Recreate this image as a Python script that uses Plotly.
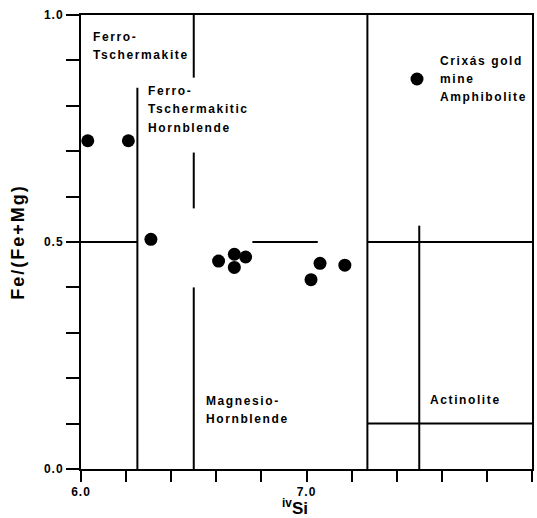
import plotly.graph_objects as go

# Data points (iv Si, Fe/(Fe+Mg))
si_values = [6.03, 6.21, 6.31, 6.61, 6.68, 6.73, 6.68, 7.02, 7.06, 7.17, 7.49]
fe_ratio = [0.723, 0.723, 0.506, 0.458, 0.473, 0.467, 0.444, 0.417, 0.453, 0.449, 0.859]

# Classification boundary segments (x0, x1, y0, y1)
boundary_x0 = [6.25, 6.5, 6.5, 6.5, 7.27, 7.5, 6.0, 6.76, 7.27, 7.27]
boundary_x1 = [6.25, 6.5, 6.5, 6.5, 7.27, 7.5, 6.25, 7.05, 8.0, 8.0]
boundary_y0 = [0.0, 0.862, 0.574, 0.0, 0.0, 0.0, 0.5, 0.5, 0.5, 0.1]
boundary_y1 = [0.84, 1.0, 0.697, 0.40, 1.0, 0.536, 0.5, 0.5, 0.5, 0.1]

# Region labels (one entry per text line)
label_text = ["Ferro-", "Tschermakite",
              "Ferro-", "Tschermakitic", "Hornblende",
              "Crixás gold", "mine", "Amphibolite",
              "Magnesio-", "Hornblende",
              "Actinolite"]
label_x = [6.046, 6.046,
           6.29, 6.29, 6.29,
           7.583, 7.583, 7.583,
           6.545, 6.545,
           7.537]
label_y = [0.952, 0.913,
           0.833, 0.792, 0.752,
           0.899, 0.859, 0.819,
           0.150, 0.110,
           0.151]

x_tickvals = [6.0, 7.0, 8.0]
x_ticktext = ["6.0", "7.0", "8.0"]
x_minor_ticks = [6.2, 6.4, 6.6, 6.8, 7.2, 7.4, 7.6, 7.8]
y_tickvals = [0.0, 0.5, 1.0]
y_ticktext = ["0.0", "0.5", "1.0"]
y_minor_ticks = [0.1, 0.2, 0.3, 0.4, 0.6, 0.7, 0.8, 0.9]

x_title = "<sup>iv</sup>Si"
y_title = "Fe/(Fe+Mg)"

FONT = "Liberation Sans, Arial, sans-serif"

lx, ly = [], []
for a, b, c, d in zip(boundary_x0, boundary_x1, boundary_y0, boundary_y1):
    lx += [a, b, None]
    ly += [c, d, None]

fig = go.Figure()
fig.add_trace(go.Scatter(x=lx, y=ly, mode="lines",
                         line=dict(color="black", width=2),
                         hoverinfo="skip", showlegend=False))
fig.add_trace(go.Scatter(x=si_values, y=fe_ratio, mode="markers",
                         marker=dict(color="black", size=13),
                         showlegend=False))

for t, x, y in zip(label_text, label_x, label_y):
    fig.add_annotation(x=x, y=y, xref="x", yref="y", text=t, showarrow=False,
                       xanchor="left", yanchor="middle", align="left",
                       font=dict(family=FONT, size=12, color="black", weight="bold"))

# x-axis title as an annotation so it sits just below/left of the "7.0" label like the original
fig.add_annotation(x=0.475, y=0, xref="paper", yref="paper", yshift=-38,
                   text=x_title, showarrow=False, xanchor="center", yanchor="middle",
                   borderpad=0,
                   font=dict(family=FONT, size=17, color="black", weight="bold"))

fig.update_layout(
    width=537, height=518, autosize=False,
    margin=dict(l=81, r=3, t=15, b=49),
    paper_bgcolor="white", plot_bgcolor="white",
    font=dict(family=FONT, color="black"),
)
fig.update_xaxes(range=[6.0, 8.0], tickmode="array", tickvals=x_tickvals, ticktext=x_ticktext,
                 ticks="outside", ticklen=11, tickwidth=2, tickcolor="black",
                 minor=dict(tickmode="array", tickvals=x_minor_ticks, ticks="outside",
                            ticklen=11, tickwidth=2, tickcolor="black", showgrid=False),
                 showline=True, linewidth=2, linecolor="black", mirror=True,
                 showgrid=False, zeroline=False,
                 tickfont=dict(family=FONT, size=12, weight="bold"))
fig.update_yaxes(range=[0.0, 1.0], tickmode="array", tickvals=y_tickvals, ticktext=y_ticktext,
                 ticks="outside", ticklen=13, tickwidth=2, tickcolor="black",
                 minor=dict(tickmode="array", tickvals=y_minor_ticks, ticks="outside",
                            ticklen=13, tickwidth=2, tickcolor="black", showgrid=False),
                 showline=True, linewidth=2, linecolor="black", mirror=True,
                 showgrid=False, zeroline=False,
                 tickfont=dict(family=FONT, size=12, weight="bold"),
                 title=dict(text=y_title, standoff=18,
                            font=dict(family=FONT, size=18, weight="bold")))

post = (
    "document.querySelectorAll('.annotation-text').forEach(function(e){"
    "if(e.textContent.indexOf('Si')<0){e.style.letterSpacing='1.6px';}});"
    "document.querySelectorAll('.ytitle').forEach(function(e){e.style.letterSpacing='2px';});"
    "document.querySelectorAll('.xtick text, .ytick text').forEach(function(e){e.style.letterSpacing='1px';});"
)

fig.write_html("out.html", post_script=post)
